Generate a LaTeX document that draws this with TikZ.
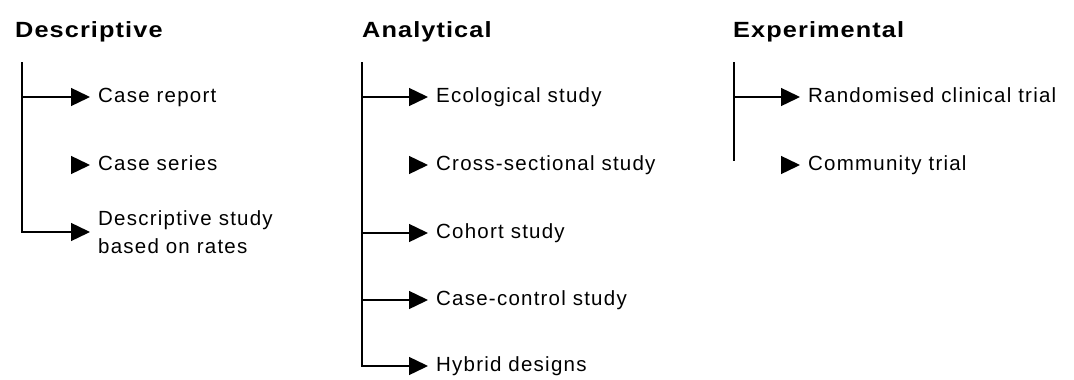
\documentclass[tikz,border=0pt]{standalone}
\usepackage{fontspec}
\setmainfont{Liberation Sans}
\newfontfamily\headfont{Liberation Sans}[FakeStretch=1.15,LetterSpace=5]
\newfontfamily\itemfont{Liberation Sans}[LetterSpace=6]
\usetikzlibrary{positioning,arrows.meta}

\tikzset{
  heading/.style={font=\fontsize{22}{26}\selectfont\headfont\bfseries, anchor=base west, inner sep=0pt},
  itemtext/.style={font=\fontsize{20.5}{28}\selectfont\itemfont, anchor=west, align=left, inner xsep=8pt, inner ysep=0pt},
  item/.style={itemtext, text height=14pt, text depth=4pt},
  branch/.style={line width=1.4pt},
  arr/.style={branch, -{Triangle[length=19pt,width=18pt]}},
}

\begin{document}
\begin{tikzpicture}[x=1pt,y=-1pt]
\useasboundingbox[fill=white] (0,0) rectangle (1074,380);

% Descriptive
\node[heading] (desc) at (15,37) {Descriptive};
\coordinate (dtop) at (22,62);
\node[item] (d1) at (90,97) {Case report};
\node[item] (d2) at (90,165) {Case series};
\node[itemtext] (d3) at (90,232) {Descriptive study\\based on rates};
\coordinate (d2tail) at ([xshift=-19pt]d2.west);
\draw[arr] (dtop) |- (d3.west);
\draw[arr] (dtop |- d1.west) -- (d1.west);
\draw[arr] (d2tail) -- (d2.west);

% Analytical
\node[heading] (anal) at (362,37) {Analytical};
\coordinate (atop) at (362,62);
\node[item] (a1) at (428,97) {Ecological study};
\node[item] (a2) at (428,165) {Cross-sectional study};
\node[item] (a3) at (428,233) {Cohort study};
\node[item] (a4) at (428,300) {Case-control study};
\node[item] (a5) at (428,366) {Hybrid designs};
\coordinate (a2tail) at ([xshift=-19pt]a2.west);
\draw[arr] (atop) |- (a5.west);
\draw[arr] (atop |- a1.west) -- (a1.west);
\draw[arr] (a2tail) -- (a2.west);
\draw[arr] (atop |- a3.west) -- (a3.west);
\draw[arr] (atop |- a4.west) -- (a4.west);

% Experimental
\node[heading] (expt) at (733,37) {Experimental};
\coordinate (etop) at (734,62);
\coordinate (ebot) at (734,161);
\node[item] (e1) at (800,97) {Randomised clinical trial};
\node[item] (e2) at (800,165) {Community trial};
\coordinate (e2tail) at ([xshift=-19pt]e2.west);
\draw[branch] (etop) -- (ebot);
\draw[arr] (etop |- e1.west) -- (e1.west);
\draw[arr] (e2tail) -- (e2.west);
\end{tikzpicture}
\end{document}
